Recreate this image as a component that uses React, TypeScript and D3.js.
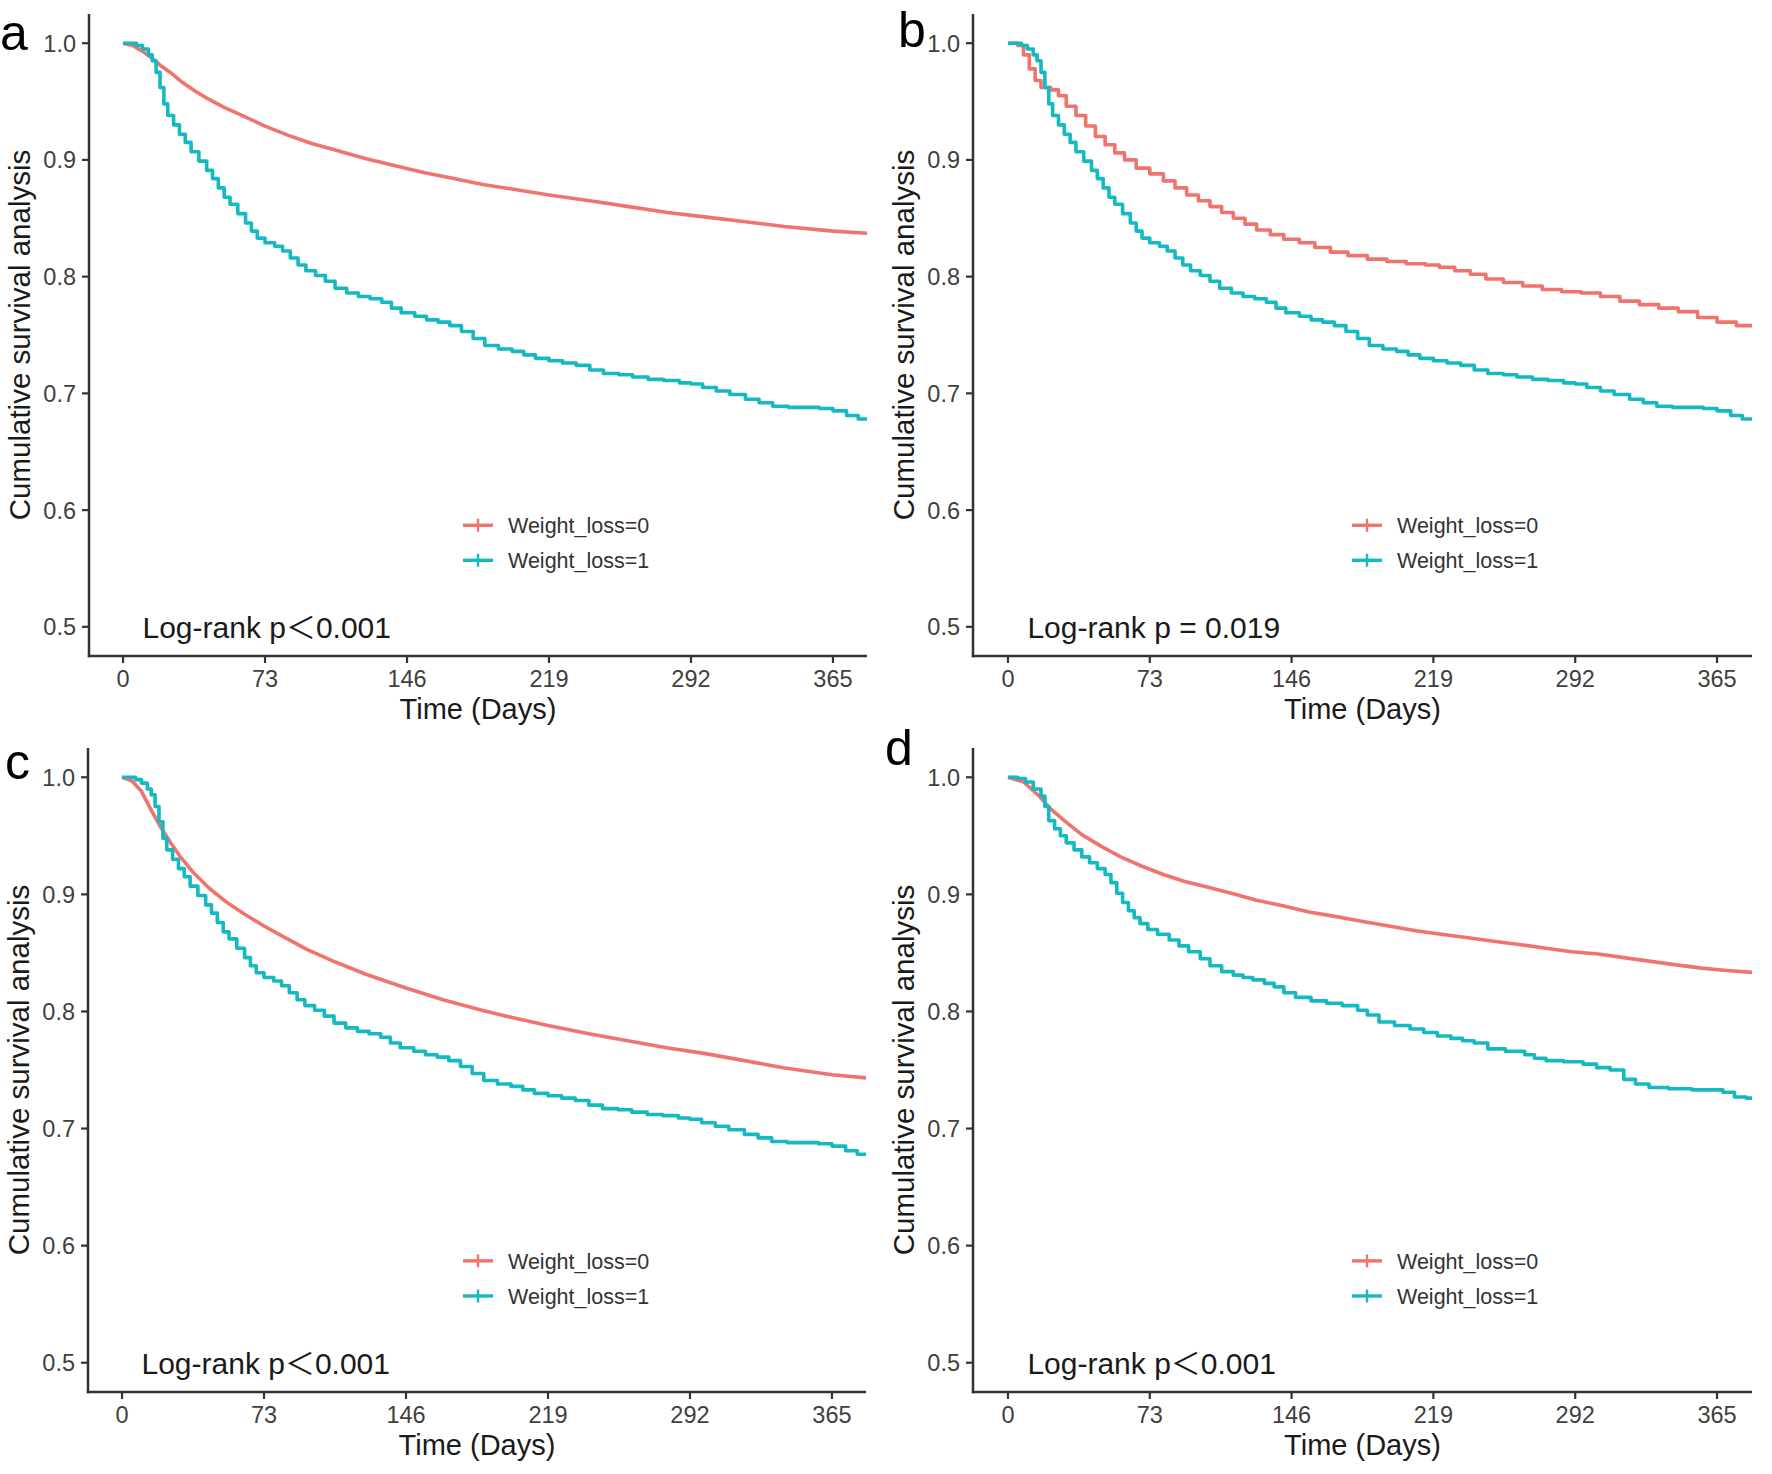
import * as d3 from "d3";

const X_TICKS = [0, 73, 146, 219, 292, 365];
const Y_TICKS = [0.5, 0.6, 0.7, 0.8, 0.9, 1.0];
const GROUPS = ["Weight_loss=0", "Weight_loss=1"];
const P_TEXTS = ["Log-rank p\uFF1C0.001", "Log-rank p = 0.019", "Log-rank p\uFF1C0.001", "Log-rank p\uFF1C0.001"];

type Pt = [number, number];

const redA: Pt[] = [
  [0, 1.0], [5, 0.998], [10, 0.993], [15, 0.987], [20, 0.98], [25, 0.974], [30, 0.967], [37, 0.959],
  [44, 0.952], [52, 0.945], [60, 0.939], [73, 0.929], [85, 0.921], [97, 0.914], [110, 0.908], [125, 0.901],
  [140, 0.895], [155, 0.889], [170, 0.884], [185, 0.879], [200, 0.875], [219, 0.87], [240, 0.865],
  [260, 0.86], [280, 0.855], [300, 0.851], [320, 0.847], [340, 0.843], [365, 0.839], [384, 0.837],
];

// weight-loss group curve is the same in panels a, b and c
const cyanABC: Pt[] = [
  [0, 1.0], [7, 0.998], [10, 0.995], [13, 0.99], [15, 0.985], [17, 0.975], [19, 0.962], [21, 0.948],
  [23, 0.938], [26, 0.93], [29, 0.922], [32, 0.915], [35, 0.907], [39, 0.899], [43, 0.891], [46, 0.884],
  [49, 0.876], [52, 0.868], [55, 0.862], [59, 0.854], [63, 0.846], [66, 0.839], [69, 0.833], [73, 0.829],
  [78, 0.826], [82, 0.822], [86, 0.816], [90, 0.81], [94, 0.805], [99, 0.801], [104, 0.796], [109, 0.79],
  [115, 0.786], [121, 0.783], [127, 0.781], [133, 0.778], [138, 0.773], [143, 0.769], [150, 0.766],
  [156, 0.763], [162, 0.761], [168, 0.758], [174, 0.753], [180, 0.747], [186, 0.741], [193, 0.738],
  [200, 0.736], [206, 0.733], [212, 0.73], [219, 0.728], [226, 0.726], [233, 0.724], [240, 0.72],
  [247, 0.717], [255, 0.716], [262, 0.714], [270, 0.712], [278, 0.711], [286, 0.709], [292, 0.708],
  [298, 0.705], [305, 0.702], [312, 0.699], [320, 0.695], [327, 0.692], [334, 0.689], [342, 0.688],
  [350, 0.688], [358, 0.687], [365, 0.685], [372, 0.681], [378, 0.678], [384, 0.677],
];

const redB: Pt[] = [
  [0, 1.0], [5, 0.998], [8, 0.99], [11, 0.978], [14, 0.968], [17, 0.962], [22, 0.96], [26, 0.955],
  [30, 0.946], [35, 0.938], [40, 0.929], [45, 0.92], [50, 0.913], [55, 0.906], [60, 0.9], [66, 0.893],
  [73, 0.888], [80, 0.882], [86, 0.876], [92, 0.87], [98, 0.865], [104, 0.86], [110, 0.855], [116, 0.85],
  [122, 0.845], [128, 0.84], [135, 0.836], [142, 0.832], [150, 0.829], [158, 0.825], [166, 0.821],
  [175, 0.818], [185, 0.815], [195, 0.813], [205, 0.811], [215, 0.81], [222, 0.808], [230, 0.805],
  [238, 0.802], [246, 0.798], [255, 0.795], [265, 0.792], [275, 0.789], [285, 0.787], [295, 0.786],
  [305, 0.783], [315, 0.779], [325, 0.776], [335, 0.773], [345, 0.77], [355, 0.765], [365, 0.761],
  [375, 0.758], [384, 0.756],
];

const redC: Pt[] = [
  [0, 1.0], [5, 0.997], [10, 0.988], [15, 0.972], [20, 0.957], [25, 0.944], [30, 0.932], [37, 0.918],
  [45, 0.905], [54, 0.893], [63, 0.883], [73, 0.873], [85, 0.862], [95, 0.853], [110, 0.842], [125, 0.832],
  [146, 0.82], [165, 0.81], [185, 0.801], [200, 0.795], [219, 0.788], [240, 0.781], [260, 0.775],
  [280, 0.769], [300, 0.764], [320, 0.758], [340, 0.752], [365, 0.746], [384, 0.743],
];

const redD: Pt[] = [
  [0, 1.0], [8, 0.996], [16, 0.984], [22, 0.973], [29, 0.963], [38, 0.951], [48, 0.941], [58, 0.932],
  [69, 0.924], [80, 0.917], [91, 0.911], [103, 0.906], [115, 0.901], [128, 0.895], [142, 0.89],
  [155, 0.885], [169, 0.881], [182, 0.877], [196, 0.873], [210, 0.869], [223, 0.866], [237, 0.863],
  [250, 0.86], [264, 0.857], [277, 0.854], [290, 0.851], [304, 0.849], [317, 0.846], [330, 0.843],
  [343, 0.84], [357, 0.837], [370, 0.835], [386, 0.833],
];

const cyanD: Pt[] = [
  [0, 1.0], [5, 0.999], [9, 0.996], [13, 0.99], [17, 0.984], [19, 0.975], [21, 0.963], [24, 0.956],
  [27, 0.95], [30, 0.944], [34, 0.938], [38, 0.932], [42, 0.927], [46, 0.922], [50, 0.917], [53, 0.91],
  [56, 0.901], [59, 0.893], [62, 0.886], [65, 0.88], [68, 0.875], [72, 0.87], [77, 0.866], [83, 0.861],
  [88, 0.856], [93, 0.851], [99, 0.845], [104, 0.839], [110, 0.834], [116, 0.831], [121, 0.829],
  [126, 0.827], [132, 0.824], [137, 0.821], [142, 0.816], [148, 0.812], [156, 0.809], [164, 0.807],
  [172, 0.805], [180, 0.801], [185, 0.797], [191, 0.791], [199, 0.788], [207, 0.785], [214, 0.782],
  [221, 0.779], [228, 0.777], [234, 0.775], [240, 0.773], [247, 0.768], [256, 0.766], [266, 0.763],
  [271, 0.76], [277, 0.758], [286, 0.757], [296, 0.755], [303, 0.752], [310, 0.75], [317, 0.742],
  [323, 0.738], [330, 0.735], [340, 0.734], [352, 0.733], [362, 0.733], [368, 0.731], [374, 0.727],
  [380, 0.726], [386, 0.725],
];

const RED = "#F0746D";
const CYAN = "#14B9C2";
const AXIS = "#333333";
const FONT = "'Liberation Sans', Arial, 'Noto Sans CJK SC', sans-serif";

interface PanelProps {
  id: string;
  letter: string;
  letterPos: [number, number];
  box: { l: number; r: number; t: number; b: number };
  xDomain: [number, number];
  red: Pt[];
  cyan: Pt[];
  redStep: boolean;
  pText: string;
  legendX: number;
}

function Panel({ id, letter, letterPos, box, xDomain, red, cyan, redStep, pText, legendX }: PanelProps) {
  const x = d3.scaleLinear().domain(xDomain).range([box.l, box.r]);
  const y = d3.scaleLinear().domain([0.475, 1.025]).range([box.b, box.t]);

  const smooth = d3.line<Pt>().x((d) => x(d[0])).y((d) => y(d[1]));
  const step = d3.line<Pt>().x((d) => x(d[0])).y((d) => y(d[1])).curve(d3.curveStepAfter);

  const legendY = [y(0.587), y(0.557)];
  const midX = (box.l + box.r) / 2;
  const midY = (box.t + box.b) / 2;

  return (
    <g>
      <defs>
        <clipPath id={`clip-${id}`}>
          <rect x={box.l} y={box.t} width={box.r - box.l} height={box.b - box.t} />
        </clipPath>
      </defs>

      {/* curves */}
      <g clipPath={`url(#clip-${id})`} fill="none" strokeWidth={3.6} strokeLinejoin="round">
        <path d={(redStep ? step : smooth)(red) ?? ""} stroke={RED} />
        <path d={step(cyan) ?? ""} stroke={CYAN} />
      </g>

      {/* axes */}
      <line x1={box.l} x2={box.l} y1={box.t} y2={box.b + 1.2} stroke={AXIS} strokeWidth={2.5} />
      <line x1={box.l - 1.2} x2={box.r} y1={box.b} y2={box.b} stroke={AXIS} strokeWidth={2.5} />

      {Y_TICKS.map((v) => (
        <g key={`y${v}`}>
          <line x1={box.l - 7} x2={box.l} y1={y(v)} y2={y(v)} stroke={AXIS} strokeWidth={2.2} />
          <text x={box.l - 13} y={y(v)} dy="0.36em" textAnchor="end" fontSize={23.5} fill="#404040" fontFamily={FONT}>
            {v.toFixed(1)}
          </text>
        </g>
      ))}

      {X_TICKS.map((t) => (
        <g key={`x${t}`}>
          <line x1={x(t)} x2={x(t)} y1={box.b} y2={box.b + 7} stroke={AXIS} strokeWidth={2.2} />
          <text x={x(t)} y={box.b + 31} textAnchor="middle" fontSize={23.5} fill="#404040" fontFamily={FONT}>
            {t}
          </text>
        </g>
      ))}

      <text x={midX} y={box.b + 63} textAnchor="middle" fontSize={29} fill="#1a1a1a" fontFamily={FONT}>
        Time (Days)
      </text>
      <text
        transform={`translate(${box.l - 59},${midY}) rotate(-90)`}
        textAnchor="middle"
        fontSize={29.5}
        fill="#1a1a1a"
        fontFamily={FONT}
      >
        Cumulative survival analysis
      </text>

      {/* log-rank annotation */}
      <text x={x(10)} y={y(0.5)} dy="0.36em" fontSize={30} fill="#1a1a1a" fontFamily={FONT}>
        {pText}
      </text>

      {/* legend */}
      {GROUPS.map((g, i) => {
        const c = i === 0 ? RED : CYAN;
        const ly = legendY[i];
        return (
          <g key={g}>
            <line x1={legendX} x2={legendX + 30} y1={ly} y2={ly} stroke={c} strokeWidth={3.4} />
            <line x1={legendX + 15} x2={legendX + 15} y1={ly - 6.5} y2={ly + 6.5} stroke={c} strokeWidth={2.4} />
            <text x={legendX + 45} y={ly} dy="0.36em" fontSize={21.5} fill="#333" fontFamily={FONT}>
              {g}
            </text>
          </g>
        );
      })}

      {/* panel letter */}
      <text x={letterPos[0]} y={letterPos[1]} fontSize={50} fill="#000" fontFamily={FONT}>
        {letter}
      </text>
    </g>
  );
}

export default function App() {
  return (
    <svg
      width={1772}
      height={1474}
      style={{ position: "absolute", left: 0, top: 0, background: "#fff" }}
    >
      <rect width={1772} height={1474} fill="#fff" />
      <Panel
        id="a" letter="a" letterPos={[0, 50]}
        box={{ l: 89, r: 867, t: 14, b: 656 }} xDomain={[-17.5, 382.5]}
        red={redA} cyan={cyanABC} redStep={false} pText={P_TEXTS[0]} legendX={463}
      />
      <Panel
        id="b" letter="b" letterPos={[898, 47]}
        box={{ l: 973, r: 1752, t: 14, b: 656 }} xDomain={[-18, 383]}
        red={redB} cyan={cyanABC} redStep={true} pText={P_TEXTS[1]} legendX={1352}
      />
      <Panel
        id="c" letter="c" letterPos={[5, 779]}
        box={{ l: 88, r: 866, t: 748, b: 1392 }} xDomain={[-17.5, 382.5]}
        red={redC} cyan={cyanABC} redStep={false} pText={P_TEXTS[2]} legendX={463}
      />
      <Panel
        id="d" letter="d" letterPos={[885, 765]}
        box={{ l: 973, r: 1752, t: 748, b: 1392 }} xDomain={[-18, 383]}
        red={redD} cyan={cyanD} redStep={false} pText={P_TEXTS[3]} legendX={1352}
      />
    </svg>
  );
}
